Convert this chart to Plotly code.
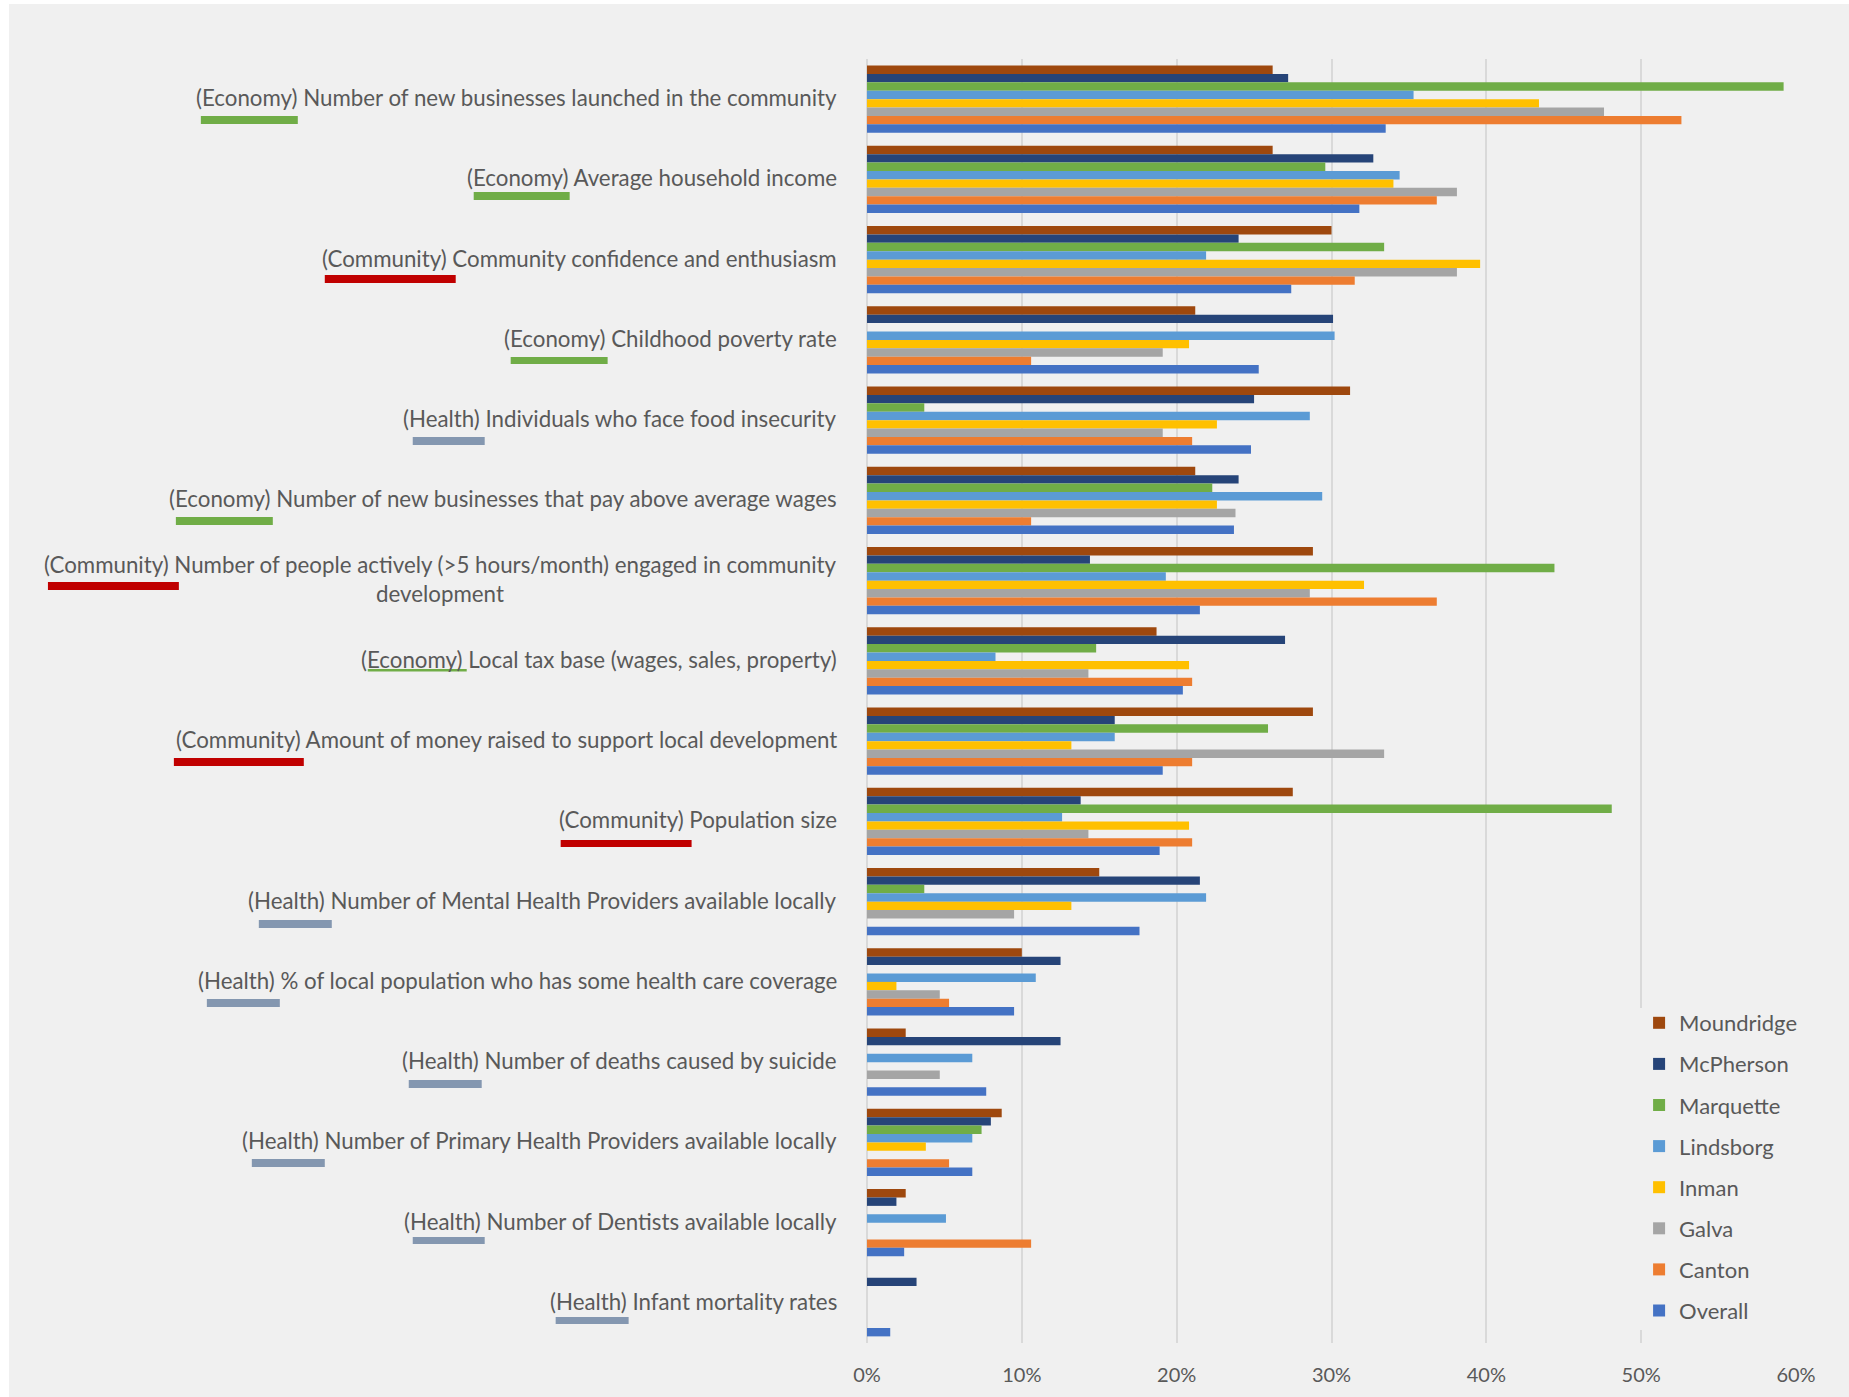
import plotly.graph_objects as go

categories = [
    "(Economy) Number of new businesses launched in the community",
    "(Economy) Average household income",
    "(Community) Community confidence and enthusiasm",
    "(Economy) Childhood poverty rate",
    "(Health) Individuals who face food insecurity",
    "(Economy) Number of new businesses that pay above average wages",
    "(Community) Number of people actively (>5 hours/month) engaged in community<br>development",
    "(Economy) Local tax base (wages, sales, property)",
    "(Community) Amount of money raised to support local development",
    "(Community) Population size",
    "(Health) Number of Mental Health Providers available locally",
    "(Health) % of local population who has some health care coverage",
    "(Health) Number of deaths caused by suicide",
    "(Health) Number of Primary Health Providers available locally",
    "(Health) Number of Dentists available locally",
    "(Health) Infant mortality rates",
]

moundridge = [26.2, 26.2, 30.0, 21.2, 31.2, 21.2, 28.8, 18.7, 28.8, 27.5, 15.0, 10.0, 2.5, 8.7, 2.5, None]
mcpherson = [27.2, 32.7, 24.0, 30.1, 25.0, 24.0, 14.4, 27.0, 16.0, 13.8, 21.5, 12.5, 12.5, 8.0, 1.9, 3.2]
marquette = [59.2, 29.6, 33.4, None, 3.7, 22.3, 44.4, 14.8, 25.9, 48.1, 3.7, None, None, 7.4, None, None]
lindsborg = [35.3, 34.4, 21.9, 30.2, 28.6, 29.4, 19.3, 8.3, 16.0, 12.6, 21.9, 10.9, 6.8, 6.8, 5.1, None]
inman = [43.4, 34.0, 39.6, 20.8, 22.6, 22.6, 32.1, 20.8, 13.2, 20.8, 13.2, 1.9, None, 3.8, None, None]
galva = [47.6, 38.1, 38.1, 19.1, 19.1, 23.8, 28.6, 14.3, 33.4, 14.3, 9.5, 4.7, 4.7, None, None, None]
canton = [52.6, 36.8, 31.5, 10.6, 21.0, 10.6, 36.8, 21.0, 21.0, 21.0, None, 5.3, None, 5.3, 10.6, None]
overall = [33.5, 31.8, 27.4, 25.3, 24.8, 23.7, 21.5, 20.4, 19.1, 18.9, 17.6, 9.5, 7.7, 6.8, 2.4, 1.5]

series_names = ["Moundridge", "McPherson", "Marquette", "Lindsborg", "Inman", "Galva", "Canton", "Overall"]
series_values = [moundridge, mcpherson, marquette, lindsborg, inman, galva, canton, overall]
series_colors = ["#9E480E", "#264478", "#70AD47", "#5B9BD5", "#FFC000", "#A5A5A5", "#ED7D31", "#4472C4"]

x_ticks = [0, 0.1, 0.2, 0.3, 0.4, 0.5, 0.6]

# category underline decorations (pixel positions, from the reference image)
GREEN, RED, HEALTH = "#70AD47", "#C00000", "#8497B0"
underlines = [
    (200, 297, 116, 124, GREEN),
    (473, 569, 192, 200, GREEN),
    (324, 455, 275, 283, RED),
    (510, 607, 357, 364, GREEN),
    (412, 484, 437, 445, HEALTH),
    (175, 272, 517, 525, GREEN),
    (47, 178, 582, 590, RED),
    (367, 466, 669, 671.5, GREEN),
    (173, 303, 758, 766, RED),
    (560, 691, 840, 847, RED),
    (258, 331, 920, 928, HEALTH),
    (206, 279, 999, 1007, HEALTH),
    (408, 481, 1080, 1088, HEALTH),
    (251, 324, 1159, 1167, HEALTH),
    (412, 484, 1237, 1244, HEALTH),
    (555, 628, 1317, 1324, HEALTH),
]

W, H = 1849, 1397
ML, MR, MT, MB = 866.5, 53, 59, 54
PW, PH = W - ML - MR, H - MT - MB


def px2x(px):
    return (px - ML) / PW


def px2y(py):
    return 1 - (py - MT) / PH


FONT = "Lato"
TXT = "#595959"

fig = go.Figure()
for name, vals, col in zip(series_names, series_values, series_colors):
    fig.add_trace(go.Bar(
        y=categories,
        x=[None if v is None else v / 100 for v in vals],
        name=name,
        orientation="h",
        marker=dict(color=col, line=dict(width=0)),
        legendgroup=name,
    ))

shapes = [
    dict(type="rect", xref="paper", yref="paper", x0=px2x(8), x1=px2x(W + 5),
         y0=px2y(H + 5), y1=px2y(4), fillcolor="#F0F0F0", line=dict(width=0), layer="below"),
    dict(type="rect", xref="paper", yref="paper", x0=px2x(1634), x1=px2x(1830),
         y0=px2y(1330), y1=px2y(1008), fillcolor="#F0F0F0", line=dict(width=0), layer="above"),
]
for x0, x1, y0, y1, c in underlines:
    shapes.append(dict(type="rect", xref="paper", yref="paper", x0=px2x(x0), x1=px2x(x1),
                       y0=px2y(y1), y1=px2y(y0), fillcolor=c, line=dict(width=0), layer="above"))

annotations = []
for cat in categories:
    annotations.append(dict(
        x=px2x(838), xref="paper", xanchor="right",
        y=cat, yref="y", yanchor="middle", yshift=1.5,
        text=cat, showarrow=False, align="center",
        font=dict(family=FONT, size=22.3, color=TXT),
    ))

fig.update_layout(
    width=W, height=H,
    margin=dict(l=ML, r=MR, t=MT, b=MB, pad=0),
    paper_bgcolor="white",
    plot_bgcolor="#F0F0F0",
    barmode="group",
    bargap=0.165,
    bargroupgap=0,
    font=dict(family=FONT, size=20, color=TXT),
    xaxis=dict(
        range=[0, 0.6], tickvals=x_ticks, tickformat=".0%",
        showgrid=True, gridcolor="#D9D9D9", gridwidth=2,
        zeroline=True, zerolinecolor="#D9D9D9", zerolinewidth=2,
        showline=False, ticks="outside", ticklen=14, tickcolor="rgba(0,0,0,0)",
        tickfont=dict(family=FONT, size=20, color=TXT),
        fixedrange=True,
    ),
    yaxis=dict(
        categoryorder="array", categoryarray=categories,
        range=[len(categories) - 0.5, -0.5],
        showticklabels=False, showgrid=False, zeroline=False, showline=False,
        fixedrange=True,
    ),
    legend=dict(
        x=px2x(1639), xanchor="left", y=px2y(1002), yanchor="top",
        traceorder="grouped", tracegroupgap=9.5,
        bgcolor="rgba(0,0,0,0)", borderwidth=0,
        font=dict(family=FONT, size=22, color=TXT),
    ),
    shapes=shapes,
    annotations=annotations,
)

fig.write_html("out.html", config={"displayModeBar": False},
               post_script="document.body.style.margin='0';")
